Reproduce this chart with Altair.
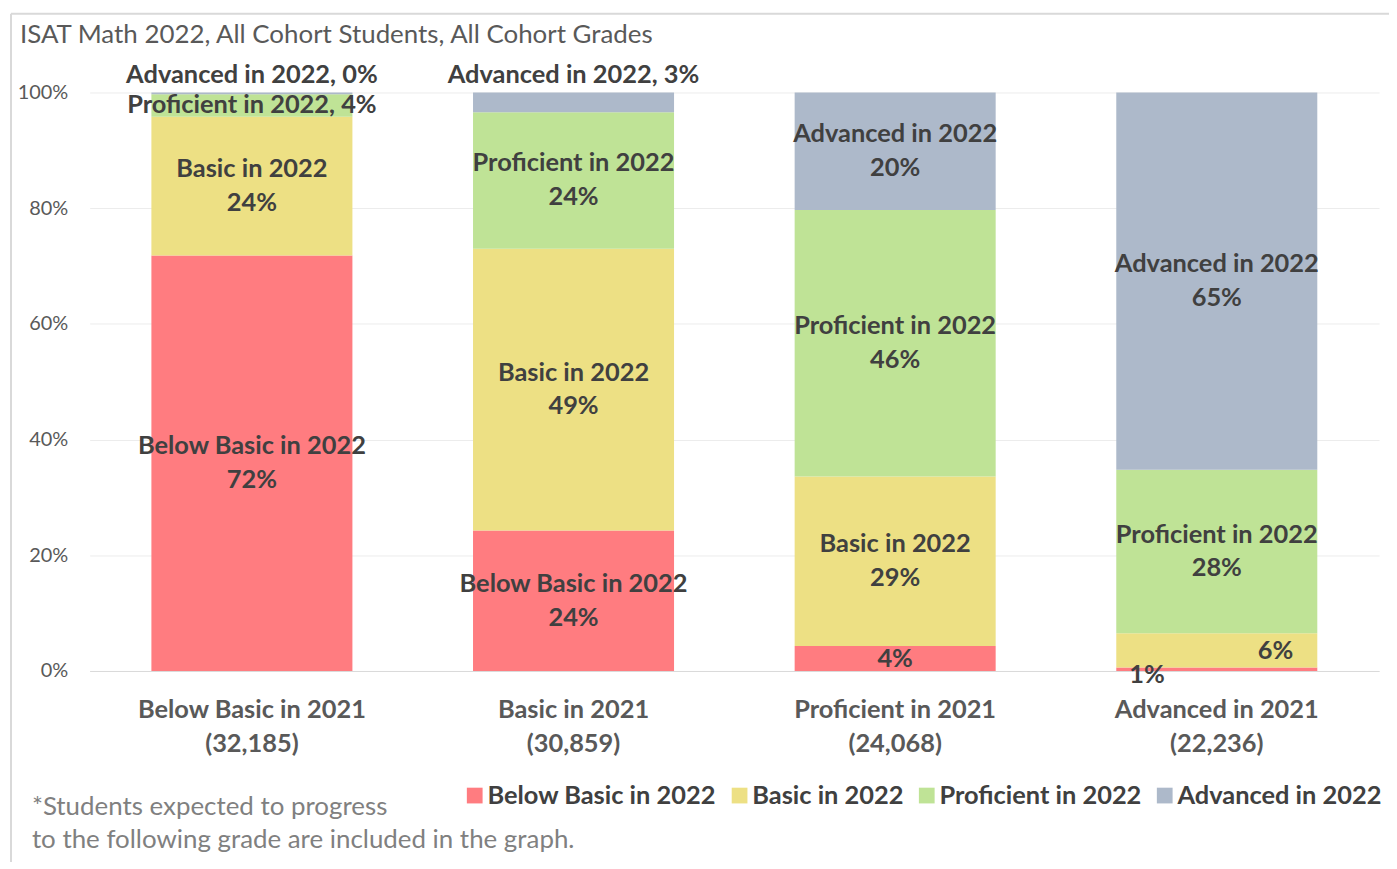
import altair as alt
import pandas as pd

categories = ["Below Basic in 2021", "Basic in 2021", "Proficient in 2021", "Advanced in 2021"]
counts = ["(32,185)", "(30,859)", "(24,068)", "(22,236)"]
levels = ["Below Basic in 2022", "Basic in 2022", "Proficient in 2022", "Advanced in 2022"]
below_basic = [71.8, 24.3, 4.3, 0.6]
basic = [24.0, 48.7, 29.3, 5.9]
proficient = [3.9, 23.6, 46.1, 28.3]
advanced = [0.3, 3.4, 20.3, 65.2]
colors = ["#FF7C80", "#EDE084", "#BFE396", "#ADB9CA"]

series = [below_basic, basic, proficient, advanced]
xcats = [c + "|" + n for c, n in zip(categories, counts)]

rows = []
for ci, xc in enumerate(xcats):
    cum = 0.0
    for li, lv in enumerate(levels):
        v = series[li][ci] / 100.0
        rows.append({"cat": xc, "level": lv, "order": li, "value": v,
                     "mid": cum + v / 2, "pct": f"{round(v * 100)}%", "ci": ci, "li": li})
        cum += v
df = pd.DataFrame(rows)

# label styles (which segments get which kind of label)
two_line = {(0, 0), (0, 1), (1, 0), (1, 1), (1, 2), (2, 1), (2, 2), (2, 3), (3, 2), (3, 3)}
lab_two = df[[(r.ci, r.li) in two_line for r in df.itertuples()]].copy()
lab_two["text"] = [[r.level, r.pct] for r in lab_two.itertuples()]
lab_one_mid = df[[(r.ci, r.li) in {(2, 0)} for r in df.itertuples()]].copy()
lab_one_mid["text"] = lab_one_mid["pct"]
lab_prof = df[[(r.ci, r.li) == (0, 2) for r in df.itertuples()]].copy()
lab_prof["text"] = [f"{r.level}, {r.pct}" for r in lab_prof.itertuples()]
lab_top = df[[(r.ci, r.li) in {(0, 3), (1, 3)} for r in df.itertuples()]].copy()
lab_top["text"] = [f"{r.level}, {r.pct}" for r in lab_top.itertuples()]
lab_left = df[[(r.ci, r.li) == (3, 0) for r in df.itertuples()]].copy()
lab_left["text"] = lab_left["pct"]
lab_right = df[[(r.ci, r.li) == (3, 1) for r in df.itertuples()]].copy()
lab_right["text"] = lab_right["pct"]

FONT = "Lato"
FS = 25.5
W, H = 1295, 581

x_enc = alt.X("cat:N", sort=xcats, title=None,
              scale=alt.Scale(paddingInner=0.375, paddingOuter=0.192),
              axis=alt.Axis(labelExpr="split(datum.label, '|')", labelAngle=0,
                            labelFont=FONT, labelFontSize=FS, labelFontWeight="bold",
                            labelColor="#595959", labelLineHeight=34, labelPadding=27,
                            labelLimit=0, domainColor="#d9d9d9", ticks=False))
y_scale = alt.Scale(domain=[0, 1], nice=False)

bars = alt.Chart(df).mark_bar().encode(
    x=x_enc,
    y=alt.Y("value:Q", stack="zero", scale=y_scale, title=None,
            axis=alt.Axis(format=".0%", values=[0, 0.2, 0.4, 0.6, 0.8, 1.0],
                          labelFont=FONT, labelFontSize=20, labelColor="#595959",
                          labelPadding=22, domain=False, ticks=False,
                          gridColor="#ececec")),
    color=alt.Color("level:N", sort=levels,
                    scale=alt.Scale(domain=levels, range=colors),
                    legend=alt.Legend(title=None, orient="none", direction="horizontal",
                                      legendX=374, legendY=693, symbolType="square",
                                      symbolSize=250, symbolStrokeWidth=0,
                                      labelFont=FONT, labelFontSize=FS, labelLimit=0,
                                      labelFontWeight="bold", labelColor="#404040",
                                      columnPadding=10, labelOffset=0)),
    order=alt.Order("order:Q", sort="ascending"),
)

def text_layer(d, **kw):
    base = dict(font=FONT, fontSize=FS, fontWeight="bold", color="#404040",
                baseline="middle", lineHeight=34)
    base.update(kw)
    return alt.Chart(d).mark_text(**base).encode(
        x=alt.X("cat:N", sort=xcats),
        y=alt.Y("mid:Q", scale=y_scale),
        text="text",
    )

t_two = text_layer(lab_two, dy=-17)
t_one = text_layer(lab_one_mid)
t_prof = text_layer(lab_prof)
t_top = alt.Chart(lab_top).mark_text(font=FONT, fontSize=FS, fontWeight="bold",
                                      color="#404040", baseline="middle", dy=-18).encode(
    x=alt.X("cat:N", sort=xcats), y=alt.value(0), text="text")
t_left = text_layer(lab_left, dx=-70, dy=6)
t_right = text_layer(lab_right, dx=59, dy=1)

title = alt.Chart(pd.DataFrame({"t": ["ISAT Math 2022, All Cohort Students, All Cohort Grades"]})).mark_text(
    font=FONT, fontSize=26, color="#595959", align="left", baseline="middle").encode(
    x=alt.value(-70), y=alt.value(-58), text="t")

foot = alt.Chart(pd.DataFrame({"t": [["*Students expected to progress",
                                      "to the following grade are included in the graph."]]})).mark_text(
    font=FONT, fontSize=26, color="#808080", align="left", baseline="middle", lineHeight=33).encode(
    x=alt.value(-58), y=alt.value(718), text="t")

frame_top = alt.Chart(pd.DataFrame({"a": [0]})).mark_rule(color="#d9d9d9", strokeWidth=2).encode(
    x=alt.value(-79), x2=alt.value(1310), y=alt.value(-79))
frame_left = alt.Chart(pd.DataFrame({"a": [0]})).mark_rule(color="#d9d9d9", strokeWidth=2).encode(
    x=alt.value(-79), y=alt.value(-79), y2=alt.value(790))

chart = alt.layer(frame_top, frame_left, bars, t_two, t_one, t_prof, t_top, t_left, t_right,
                  title, foot).properties(
    width=W, height=H,
    autosize=alt.AutoSizeParams(type="none"),
    padding={"left": 82, "top": 83, "right": 10, "bottom": 190},
).configure_view(stroke=None)

chart.save("out.html", embed_options={"renderer": "svg", "actions": False})
